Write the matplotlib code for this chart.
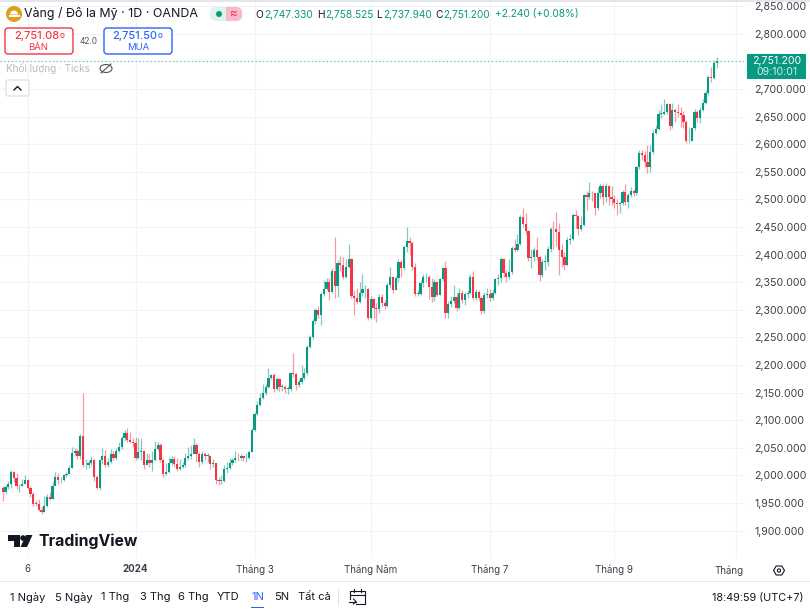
import numpy as np
import matplotlib
matplotlib.use("Agg")
import matplotlib.pyplot as plt
from matplotlib.patches import FancyBboxPatch, Circle, Rectangle, Polygon, Ellipse, Wedge

plt.rcParams['font.family'] = ['Inter', 'DejaVu Sans']

# ---------- data ----------
first_open = 1978
closes = [
1970,1979,1985,2006,1996,1980,1980,1985,1992,1978,1967,1949,1948,1938,1934,1944,1961,1958,1980,
1997,1991,1991,2000,2002,2014,2041,2045,2035,2072,2018,2018,2022,2028,1997,1978,
2028,2035,2018,2025,2038,2031,2045,2052,2067,
2077,2064,2061,2058,2031,2043,2045,2018,2028,2022,2028,2047,2055,2028,2002,2006,2022,2029,2020,2012,2016,2018,2032,2035,2038,2055,
2038,2025,2038,2035,2035,2020,2022,1991,1990,1990,2012,2014,2022,2028,2032,2031,2035,2031,2032,2043,2082,2112,2128,2140,2150,
2161,2177,2181,2157,2174,2160,2160,2157,2157,2185,2183,2163,2169,2177,2186,2233,2250,2280,2300,2291,
2329,2338,2351,2333,2371,2344,2385,2382,2360,2378,2392,2325,2321,2315,2330,2337,2337,2286,2319,2303,
2301,2323,2312,2307,2345,2360,2335,2357,2386,2375,2414,2424,2421,2378,2329,2329,2349,2359,2360,2342,
2324,2350,2327,2355,2375,2294,2311,2316,2324,2303,2331,2318,2329,2331,2360,2321,2333,2321,2297,2327,
2329,2321,2330,2355,2357,2392,2366,2359,2369,2412,2409,2420,2469,2456,2443,2393,2396,2408,2396,2363,
2387,2387,2411,2447,2446,2441,2408,2396,2381,2426,2429,2472,2470,2447,2453,2508,2504,2512,2511,2484,
2511,2524,2505,2524,2504,2500,2493,2492,2493,2514,2496,2508,2516,2511,2558,2584,2581,2568,2559,2585,
2620,2627,2655,2655,2659,2672,2633,2662,2659,2656,2653,2641,2605,2605,2629,2659,2647,2662,2675,2693,
2722,2720,2747,2751.2]
highs = [
1980,1982,1990,2009,2008,2005,1985,1993,2001,1993,1980,1970,1955,1958,1945,1962,1966,1970,1990,
2007,2005,1998,2002,2006,2018,2052,2050,2048,2075,2150,2030,2028,2035,2030,2000,
2030,2050,2046,2032,2048,2044,2050,2060,2072,
2082,2086,2078,2068,2070,2068,2068,2046,2040,2038,2045,2063,2060,2058,2030,2022,2033,2036,2035,2032,2030,2024,2040,2052,2055,2068,
2058,2042,2045,2042,2040,2037,2030,2023,1998,2000,2018,2025,2032,2032,2045,2040,2038,2036,2040,2046,2085,2115,2135,2150,2165,
2165,2194,2184,2186,2178,2176,2166,2164,2162,2188,2222,2186,2175,2200,2195,2236,2254,2284,2303,2306,
2332,2354,2358,2358,2376,2432,2390,2398,2396,2392,2420,2394,2335,2340,2350,2365,2345,2340,2325,2322,
2312,2328,2328,2318,2348,2378,2362,2362,2392,2390,2418,2450,2432,2425,2385,2335,2354,2365,2366,2363,
2358,2355,2352,2358,2378,2388,2316,2325,2345,2330,2340,2335,2333,2336,2365,2370,2337,2336,2325,2332,
2340,2338,2338,2358,2364,2396,2393,2372,2392,2416,2428,2437,2472,2484,2475,2445,2410,2414,2432,2398,
2392,2400,2416,2450,2461,2478,2458,2420,2405,2432,2438,2476,2480,2472,2470,2510,2515,2531,2516,2510,
2522,2528,2527,2530,2526,2525,2508,2500,2498,2517,2528,2512,2522,2518,2561,2590,2590,2588,2598,2598,
2625,2635,2662,2672,2682,2675,2668,2675,2665,2672,2668,2660,2644,2632,2632,2664,2662,2668,2682,2698,
2725,2740,2750,2758.5]
lows = [
1954,1966,1975,1977,1988,1975,1970,1980,1986,1975,1960,1945,1944,1935,1930,1933,1942,1955,1958,
1990,1985,1987,1990,1998,2002,2013,2036,2030,2030,2016,2012,2014,2018,1990,1976,
1973,2020,2015,2016,2022,2028,2028,2042,2048,
2062,2060,2058,2052,2028,2030,2028,2012,2020,2016,2008,2026,2044,2025,1998,2000,2005,2018,2015,2008,2010,2014,2016,2028,2030,2038,
2025,2015,2020,2028,2025,2012,2015,1985,1983,1984,1988,2005,2012,2018,2024,2026,2028,2026,2025,2030,2042,2080,2110,2125,2138,
2146,2158,2175,2151,2155,2153,2152,2150,2148,2152,2178,2155,2161,2166,2172,2182,2230,2248,2275,2285,
2272,2325,2335,2318,2330,2322,2324,2370,2355,2358,2375,2322,2290,2310,2312,2325,2322,2282,2283,2285,
2277,2295,2305,2302,2305,2340,2330,2335,2350,2360,2372,2405,2400,2372,2325,2325,2326,2342,2350,2320,
2315,2316,2325,2326,2352,2285,2285,2305,2312,2298,2302,2312,2308,2322,2328,2318,2318,2316,2292,2295,
2322,2316,2318,2328,2345,2350,2360,2350,2355,2365,2405,2406,2418,2450,2438,2388,2375,2388,2390,2353,
2360,2372,2380,2405,2410,2415,2363,2378,2372,2380,2420,2426,2448,2435,2442,2452,2480,2500,2498,2472,
2480,2502,2490,2495,2490,2490,2484,2472,2475,2490,2490,2485,2505,2507,2508,2555,2572,2558,2548,2550,
2582,2618,2626,2648,2652,2655,2625,2630,2640,2650,2632,2630,2603,2603,2605,2625,2640,2638,2660,2672,
2690,2712,2718,2737.9]
price_ticks = [1900,1950,2000,2050,2100,2150,2200,2250,2300,2350,2400,2450,2500,2550,2600,2650,2700,2750,2800,2850]
date_ticks = [10, 49, 92, 134, 177, 222, 266]
date_labels = ['6', '2024', 'Tháng 3', 'Tháng Năm', 'Tháng 7', 'Tháng 9', '']
last_price = 2751.2

UP = '#089981'
DOWN = '#F23645'
GRID = '#f1f3f8'
TXT = '#131722'
AXT = '#3b3f4a'

# ---------- figure ----------
W, H = 810, 609
fig = plt.figure(figsize=(W/100, H/100), dpi=100, facecolor='white')
ax = fig.add_axes([0, (H-558)/H, 745/W, 558/H])
ax.set_xlim(0, 745/2.767)
ax.set_ylim(2700-(558-89)/0.552, 2700+89/0.552)
for s in ax.spines.values():
    s.set_visible(False)
ax.yaxis.tick_right()
ax.set_yticks(price_ticks)
ax.set_yticklabels([f'{p:,.3f}' if p != 2750 else '' for p in price_ticks], fontsize=7.6, color=AXT)
ax.set_xticks(date_ticks)
ax.set_xticklabels(date_labels, fontsize=7.0, color=AXT)
ax.get_xticklabels()[1].set_fontweight('bold')
ax.tick_params(axis='both', length=0)
ax.tick_params(axis='y', pad=6.5)
ax.tick_params(axis='x', pad=4.5)
ax.grid(True, color=GRID, lw=0.8)
ax.set_axisbelow(True)
closes_a = np.array(closes, float)
highs_a = np.array(highs, float)
lows_a = np.array(lows, float)
opens_a = np.r_[first_open, closes_a[:-1]]
opens_a[-1] = 2747.33
idx = np.arange(1, len(closes_a)+1)
up = closes_a >= opens_a
cols = np.where(up, UP, DOWN)
ax.vlines(idx, lows_a, highs_a, colors=cols, lw=0.9, alpha=0.5, zorder=2)
ax.bar(idx, np.maximum(np.abs(closes_a-opens_a), 1.2), bottom=np.minimum(opens_a, closes_a),
       width=0.8, color=cols, linewidth=0, zorder=3)
ax.axhline(last_price, color='#12a58c', lw=0.9, ls=(0, (1, 2)), alpha=0.6, zorder=1)

# ---------- interface overlay, in pixel coordinates ----------
ui = fig.add_axes([0, 0, 1, 1], zorder=5)
ui.set_xlim(0, W); ui.set_ylim(H, 0); ui.axis('off'); ui.patch.set_alpha(0)

def T(x, y, s, size=8.2, color=TXT, ha='left', weight='normal'):
    ui.text(x, y, s, fontsize=size, color=color, ha=ha, va='center', fontweight=weight)

def box(x0, y0, x1, y1, ec, fc='white', r=3, lw=1.0):
    ui.add_patch(FancyBboxPatch((x0+r, y0+r), x1-x0-2*r, y1-y0-2*r, boxstyle=f'round,pad={r}',
                                ec=ec, fc=fc, lw=lw))

ui.add_patch(Rectangle((0, 0), W, 2, fc='#e4e6ee', ec='none'))
ui.add_patch(Rectangle((0, 581), W, 1, fc='#e6e8ee', ec='none'))

# title row
ui.add_patch(Circle((14, 14), 8, fc='#DCA01A', ec='none'))
ui.add_patch(Wedge((14, 14.5), 4, 180, 360, fc='white', ec='none'))
ui.add_patch(Rectangle((8.5, 15), 11, 2, fc='white', ec='none'))
T(24, 14, 'Vàng / Đô la Mỹ · 1D · OANDA', size=8.95)
box(210, 7, 242, 21, '#dff2ee', fc='#dff2ee', r=6, lw=0)
ui.add_patch(FancyBboxPatch((232, 13), 4, 2, boxstyle='round,pad=6', ec='none', fc='#f9b8cb'))
ui.add_patch(Rectangle((226, 7), 6, 14, fc='#f9b8cb', ec='none'))
ui.add_patch(Circle((219, 14), 3, fc=UP, ec='none'))
T(233, 14, '≈', size=8.5, color=DOWN, ha='center')
T(255, 14.5, 'O', size=7.3); T(264, 14.5, '2,747.330', size=7.3, color=UP)
T(317, 14.5, 'H', size=7.3); T(325, 14.5, '2,758.525', size=7.3, color=UP)
T(376, 14.5, 'L', size=7.3); T(383, 14.5, '2,737.940', size=7.3, color=UP)
T(435, 14.5, 'C', size=7.3); T(443, 14.5, '2,751.200', size=7.3, color=UP)
T(495, 14.5, '+2.240 (+0.08%)', size=7.3, color=UP)

# order buttons
box(5, 28, 73, 54, DOWN)
T(59.5, 36, '2,751.08', size=7.9, color=DOWN, ha='right', weight='medium')
T(59.5, 36, '0', size=5.6, color=DOWN, weight='medium')
T(38.5, 48, 'BÁN', size=6.8, color=DOWN, ha='center')
T(88, 41.5, '42.0', size=6.0, color='#50535e', ha='center')
box(104, 28, 172, 54, '#2962FF')
T(157.5, 36, '2,751.50', size=7.9, color='#2962FF', ha='right', weight='medium')
T(157.5, 36, '0', size=5.6, color='#2962FF', weight='medium')
T(138, 48, 'MUA', size=6.8, color='#2962FF', ha='center')

# volume legend
T(6, 68.5, 'Khối lượng · Ticks', size=7.2, color='#b8bbc4')
ui.add_patch(Ellipse((106, 68.5), 12, 8, fc='none', ec='#50535e', lw=0.8))
ui.plot([101, 111], [73, 64], color='#50535e', lw=0.8)
box(6, 80, 29, 96, '#e0e3eb', r=2)
ui.plot([14, 17.5, 21], [90, 86.5, 90], color=TXT, lw=1)

# logo
ui.add_patch(Polygon([(8, 535), (20, 535), (20, 547), (14, 547), (14, 541), (8, 541)], fc=TXT, ec='none'))
ui.add_patch(Circle((23, 538), 2.8, fc=TXT, ec='none'))
ui.add_patch(Polygon([(26, 535), (32.5, 535), (27, 547), (20.5, 547)], fc=TXT, ec='none'))
T(38, 541.5, 'TradingView', size=11.4, weight='bold')

# last price label
ui.add_patch(Rectangle((747, 54), 59, 25, fc=UP, ec='none'))
T(777, 60.5, '2,751.200', size=7.6, color='white', ha='center')
T(777, 72, '09:10:01', size=7.6, color='#cfeee8', ha='center')

# clipped date label and settings icon
T(729, 570.5, 'Tháng', size=7.0, color=AXT, ha='center')
ui.add_patch(Polygon([(773.5, 570.5), (776.2, 566), (781.8, 566), (784.5, 570.5), (781.8, 575), (776.2, 575)],
                     fc='none', ec=TXT, lw=0.8))
ui.add_patch(Circle((779, 570.5), 1.6, fc='none', ec=TXT, lw=0.8))

# range toolbar
for x, s in [(10, '1 Ngày'), (55, '5 Ngày'), (101, '1 Thg'), (140, '3 Thg'), (178, '6 Thg'),
             (217, 'YTD'), (274, '5N'), (298, 'Tất cả')]:
    T(x, 597.5, s, size=8.0)
T(251, 597.5, '1N', size=8.0, color='#2962FF')
ui.add_patch(Rectangle((251, 606.5), 13, 1.5, fc='#2962FF', ec='none'))
ui.add_patch(Rectangle((338, 589), 1, 17, fc='#e0e3eb', ec='none'))
ui.plot([350, 350, 365, 365, 356], [599, 591, 591, 604, 604], color=TXT, lw=0.8)
ui.plot([350, 365], [594.5, 594.5], color=TXT, lw=0.8)
ui.plot([354, 354], [589, 592], color=TXT, lw=0.8)
ui.plot([361, 361], [589, 592], color=TXT, lw=0.8)
ui.plot([349, 356], [601.5, 601.5], color=TXT, lw=0.8)
ui.plot([353.5, 356, 353.5], [599, 601.5, 604], color=TXT, lw=0.8)
T(803, 597.5, '18:49:59 (UTC+7)', size=7.8, ha='right')

fig.savefig('out.png', dpi=100, facecolor='white')
